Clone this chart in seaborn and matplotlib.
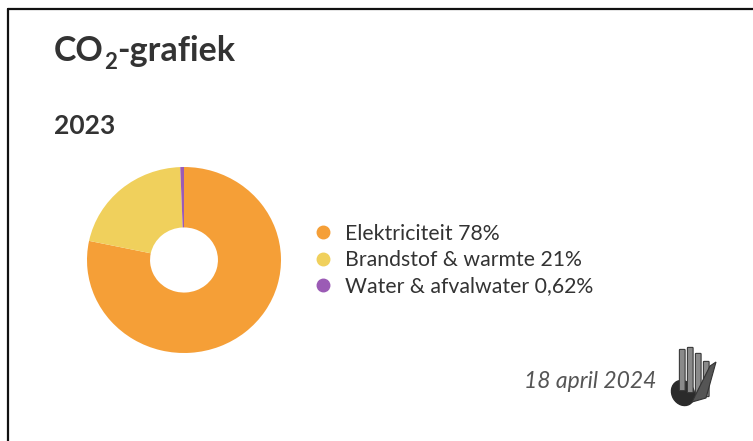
import matplotlib.pyplot as plt
import matplotlib.patches as mpatches
from matplotlib.lines import Line2D
from matplotlib.text import Annotation
import seaborn as sns

# data
labels = ['Elektriciteit', 'Brandstof & warmte', 'Water & afvalwater']
label_pct = ['78%', '21%', '0,62%']
shares = [78.3, 21.08, 0.62]
colors = ['#F59F37', '#F0D05C', '#9B5BB5']

sns.set_style('white')
plt.rcParams['font.family'] = ['Lato', 'DejaVu Sans']

fig = plt.figure(figsize=(7.53, 4.41), dpi=100)

# border lines (left + top)
fig.add_artist(Line2D([8/753, 8/753], [0, 1 - 9/441], color='#111111', lw=1.6))
fig.add_artist(Line2D([8/753, 1], [1 - 9/441, 1 - 9/441], color='#111111', lw=1.6))

# title: CO + subscript 2 + -grafiek
t1 = fig.text(54/753, 1 - 61/441, 'CO', fontsize=24.5, fontweight='bold',
              color='#333333', va='baseline', ha='left')
s1 = Annotation('2', xy=(1, 0), xycoords=t1, xytext=(0.5, -4), textcoords='offset points',
                fontsize=16, fontweight='bold', color='#333333', va='bottom', ha='left',
                annotation_clip=False)
fig.add_artist(s1)
s2 = Annotation('-grafiek', xy=(1, 0), xycoords=t1, xytext=(9.5, 0), textcoords='offset points',
                fontsize=24.5, fontweight='bold', color='#333333', va='bottom', ha='left',
                annotation_clip=False)
fig.add_artist(s2)

fig.text(54/753, 1 - 126/441, '2023', fontsize=19, fontweight='bold',
         color='#333333', va='center', ha='left')

# donut
ax = fig.add_axes([(184 - 97)/753, 1 - (260 + 93)/441, 194/753, 186/441])
ax.pie(shares, colors=colors, startangle=90, counterclock=False,
       wedgeprops=dict(width=0.65, edgecolor='none'))
ax.set_xlim(-1, 1)
ax.set_ylim(-1, 1)
ax.set_aspect('auto')
ax.axis('off')

# legend
handles = [Line2D([], [], marker='o', ls='', color=c, markersize=9) for c in colors]
texts = [f'{l} {p}' for l, p in zip(labels, label_pct)]
fig.legend(handles, texts, loc='center left', bbox_to_anchor=(293/753, 1 - 260/441),
           frameon=False, fontsize=15.3, handletextpad=0.55, labelspacing=0.3,
           labelcolor='#333333', handlelength=1.0)

# date
fig.text(656/753, 1 - 381/441, '18 april 2024', fontsize=16.5, fontstyle='italic',
         color='#555555', va='center', ha='right')

# little hand-with-bars logo
lax = fig.add_axes([668/753, 1 - 410/441, 56/753, 66/441])
lax.set_xlim(0, 56)
lax.set_ylim(0, 66)
lax.axis('off')
lax.add_patch(mpatches.Ellipse((15, 17), 22, 26, angle=30, color='#2b2b2b'))
for x0, y0, h in [(12, 20, 40), (20, 18, 44), (28, 16, 40), (36, 14, 34)]:
    lax.add_patch(mpatches.FancyBboxPatch((x0, y0), 4.5, h, boxstyle='round,pad=0.6',
                                          fc='#8a8a8a', ec='#3a3a3a', lw=0.8))
lax.add_patch(mpatches.Polygon([[42, 44], [48, 48], [38, 12], [24, 8]], closed=True,
                               fc='#555555', ec='#333333', lw=0.8))

fig.savefig('out.png', dpi=100)
